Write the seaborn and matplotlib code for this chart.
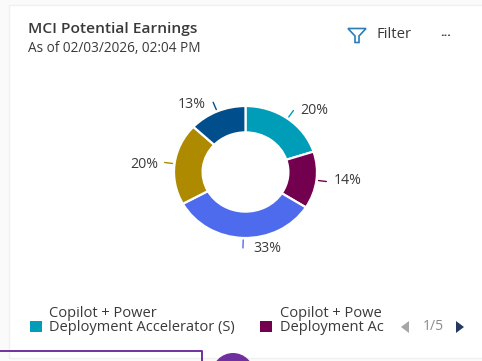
import numpy as np
import matplotlib
matplotlib.use("Agg")
import matplotlib.pyplot as plt
from matplotlib.patches import Rectangle, Polygon, Circle
import seaborn as sns

legend_labels = ["Copilot + Power\nDeployment Accelerator (S)", "Copilot + Powe\nDeployment Ac"]
values = [20, 14, 33, 20, 13]
labels = ["20%", "14%", "33%", "20%", "13%"]
colors = ["#009DB8", "#73004F", "#4F6BED", "#AD8A00", "#004E8C"]
title = "MCI Potential Earnings"
subtitle = "As of 02/03/2026, 02:04 PM"

sns.set_theme(style="white")
plt.rcParams["font.family"] = ["Open Sans", "DejaVu Sans"]
W, H = 482, 361
TXT = "#3b3a39"
palette = sns.color_palette(colors)

fig = plt.figure(figsize=(W / 100, H / 100), dpi=100, facecolor="#fafafa")
bg = fig.add_axes([0, 0, 1, 1])
bg.set_xlim(0, W); bg.set_ylim(H, 0); bg.axis("off")

# card
bg.add_patch(Rectangle((9, 5), W, 353, fc="white", ec="#f0f0f0", lw=1))

bg.text(28, 29, title, fontsize=11.15, fontweight=600, color=TXT, va="center", ha="left")
bg.text(28, 48.5, subtitle, fontsize=9.85, color=TXT, va="center", ha="left")
bg.text(376, 35, "Filter", fontsize=10.8, color=TXT, va="center", ha="left")
bg.text(446, 33, "...", fontsize=9, color=TXT, va="center", ha="center", fontweight="bold")
bg.add_patch(Polygon([(348, 28.5), (366, 28.5), (359, 36), (359, 42.5), (355, 42.5), (355, 36)],
                     closed=True, fc="none", ec="#2b7cb8", lw=1.2))

# donut: the reference is horizontally stretched, so the axes are not square
cx, cy, Rx, Ry = 245.5, 172, 71.5, 66
ax = fig.add_axes([(cx - Rx) / W, 1 - (cy + Ry) / H, 2 * Rx / W, 2 * Ry / H])
ax.pie(values, colors=palette, startangle=90, counterclock=False, radius=1,
       wedgeprops=dict(width=0.40, edgecolor="white", linewidth=1.6))
ax.set_aspect("auto")
ax.set_xlim(-1, 1); ax.set_ylim(-1, 1)

# leaders and labels
fracs = np.cumsum([0] + values) / sum(values)
mids = (fracs[:-1] + fracs[1:]) / 2 * 2 * np.pi
label_off = [(300, 111, "left"), (334, 180, "left"), (253, 248, "left"),
             (158, 165, "right"), (206, 104, "right")]
for m, col, lab, (lx, ly, ha) in zip(mids, palette, labels, label_off):
    x0, y0 = cx + (Rx + 2) * np.sin(m), cy - (Ry + 2) * np.cos(m)
    x1, y1 = cx + (Rx + 10) * np.sin(m), cy - (Ry + 10) * np.cos(m)
    bg.plot([x0, x1], [y0, y1], color=col, lw=1)
    bg.text(lx, ly, lab, fontsize=10.2, color=TXT, va="center", ha=ha)

# legend
for tx, sqx, lab, col in zip([49, 280], [30, 260], legend_labels, palette[:2]):
    bg.add_patch(Rectangle((sqx, 321), 12, 11, fc=col, ec="none"))
    bg.text(tx, 320.5, lab, fontsize=10.5, color=TXT, va="center", ha="left", linespacing=0.85)
bg.add_patch(Polygon([(401, 327), (409, 321), (409, 333)], fc="#a6a6a6", ec="none"))
bg.text(433, 327, "1/5", fontsize=10, color="#8a8a8a", va="center", ha="center")
bg.add_patch(Polygon([(464, 327), (456, 321), (456, 333)], fc="#243a5e", ec="none"))

# overlay below the card
PURPLE = "#7030A0"
bg.plot([0, 202, 202], [351, 351, 361], color=PURPLE, lw=1.4, solid_capstyle="butt")
bg.add_patch(Circle((233, 374), 21, fc=PURPLE, ec="none"))

fig.savefig("out.png", dpi=100, facecolor=fig.get_facecolor())
